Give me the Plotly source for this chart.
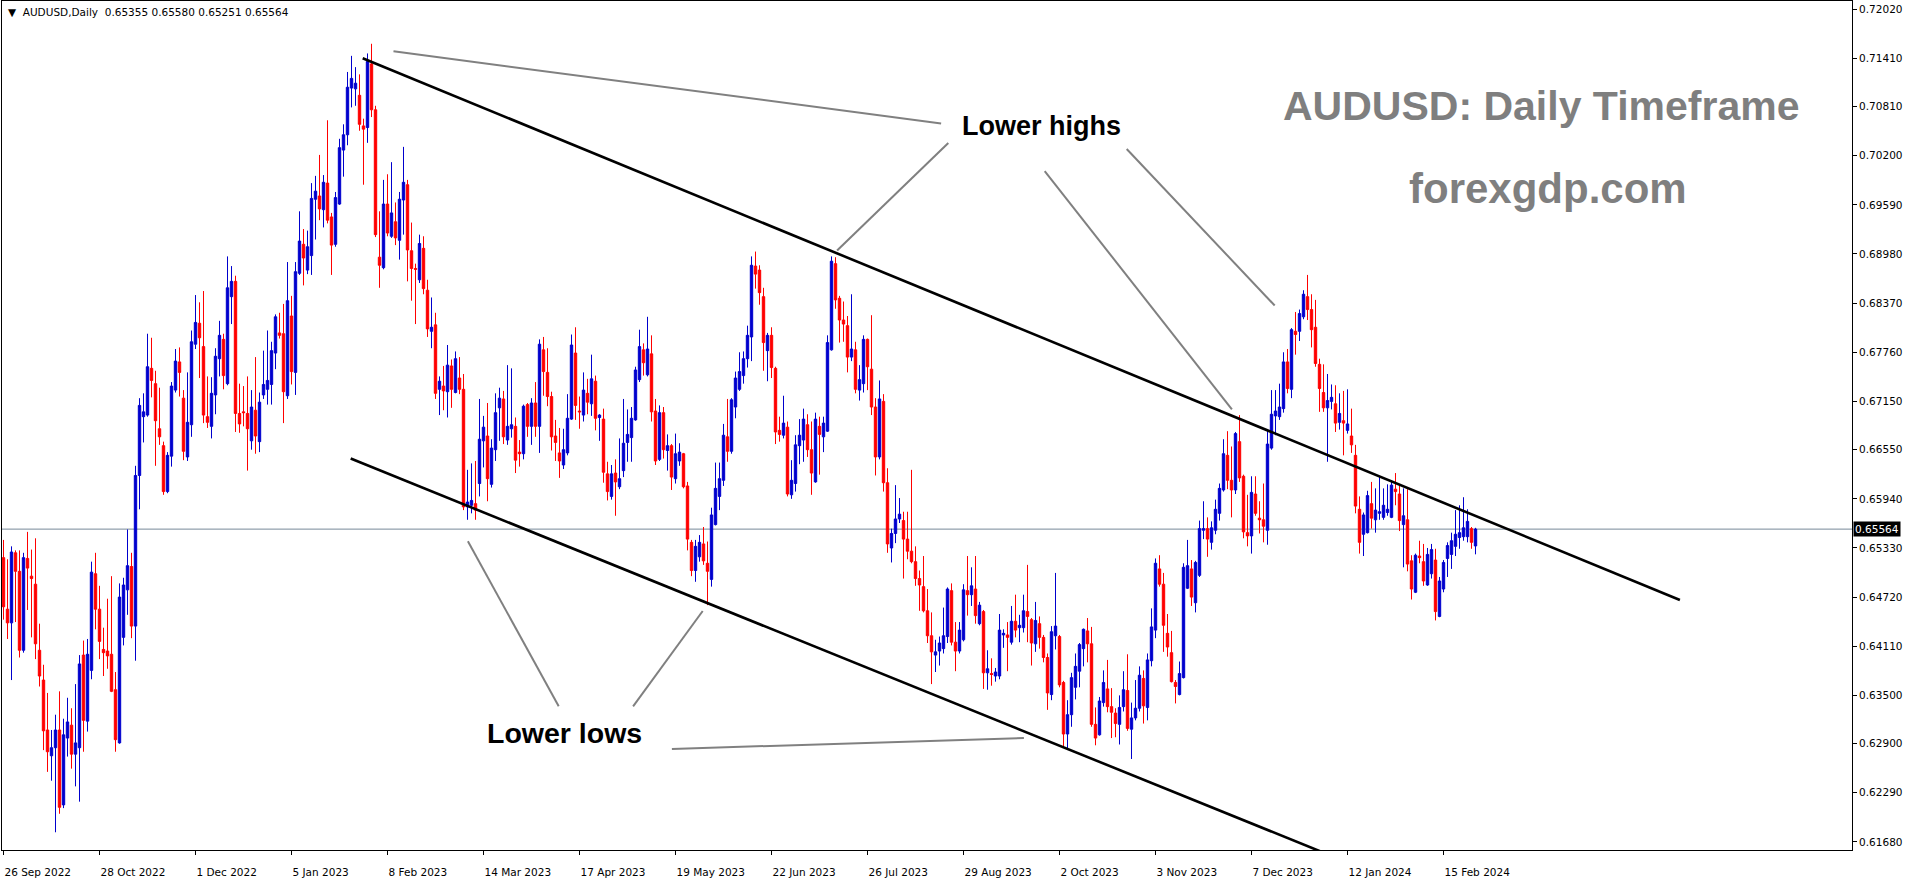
import plotly.graph_objects as go

# ---------------- data (AUDUSD daily, prices in pips = price*10000) ----------------
opens = [6521,6457,6440,6527,6504,6406,6520,6498,6488,6406,
6369,6307,6275,6285,6307,6214,6297,6313,6277,6285,
6400,6318,6381,6501,6457,6407,6405,6401,6357,6291,
6422,6481,6510,6436,6623,6696,6698,6756,6737,6681,
6660,6603,6647,6729,6764,6719,6646,6686,6786,6812,
6783,6696,6684,6723,6768,6792,6737,6845,6864,6700,
6702,6700,6666,6704,6665,6723,6730,6736,6775,6800,
6799,6722,6821,6751,6874,6910,6878,6896,6966,6970,
6953,6986,6944,6910,6960,7027,7046,7104,7103,7095,
7057,7055,7134,7077,6894,6881,6960,6920,6938,6915,
6965,6984,6902,6880,6866,6905,6853,6802,6810,6730,
6734,6727,6759,6726,6744,6730,6584,6586,6588,6613,
6666,6672,6612,6655,6707,6718,6667,6681,6684,6652,
6650,6711,6684,6713,6684,6779,6751,6721,6672,6651,
6636,6651,6693,6775,6703,6698,6725,6712,6740,6695,
6693,6625,6597,6626,6609,6629,6664,6670,6692,6742,
6779,6748,6774,6703,6643,6701,6654,6660,6619,6641,
6650,6610,6540,6505,6522,6538,6514,6494,6562,6597,
6617,6671,6653,6708,6730,6747,6768,6795,6883,6878,
6845,6778,6797,6756,6679,6673,6683,6599,6613,6660,
6667,6686,6655,6615,6684,6671,6678,6779,6886,6843,
6816,6809,6770,6779,6729,6737,6792,6755,6708,6646,
6715,6614,6533,6551,6569,6567,6544,6529,6516,6495,
6485,6455,6424,6400,6405,6408,6423,6480,6416,6405,
6419,6480,6475,6482,6439,6454,6378,6377,6374,6374,
6425,6425,6416,6442,6434,6434,6454,6444,6414,6439,
6422,6397,6351,6424,6423,6366,6302,6326,6360,6380,
6408,6430,6414,6314,6301,6341,6358,6336,6328,6314,
6336,6356,6308,6322,6334,6371,6335,6393,6431,6507,
6488,6427,6403,6366,6351,6372,6483,6507,6465,6499,
6555,6557,6540,6555,6576,6605,6648,6617,6605,6665,
6622,6552,6548,6600,6570,6568,6555,6657,6697,6696,
6706,6764,6730,6802,6802,6820,6845,6829,6807,6761,
6726,6707,6715,6712,6689,6691,6679,6672,6648,6581,
6550,6552,6588,6568,6576,6571,6577,6571,6606,6600,
6562,6568,6517,6478,6523,6516,6487,6501,6518,6448,
6482,6520,6525,6535,6546,6547,6547,6557,6535.5]

highs = [6543,6519,6535,6530,6530,6527,6553,6531,6545,6439,
6388,6353,6307,6326,6355,6321,6347,6334,6364,6400,
6418,6420,6516,6527,6486,6434,6470,6498,6379,6489,
6496,6556,6527,6635,6719,6725,6799,6794,6753,6732,
6665,6652,6739,6780,6782,6729,6751,6803,6847,6838,
6852,6746,6745,6781,6815,6799,6895,6883,6871,6737,
6734,6746,6729,6770,6726,6778,6803,6789,6823,6825,
6836,6888,6846,6888,6951,6929,6927,6986,6995,7021,
6996,7064,6949,6975,7041,7059,7124,7144,7130,7121,
7066,7147,7159,7082,6951,6990,6997,7012,6962,6975,
7031,6990,6937,6886,6922,6920,6866,6844,6825,6746,
6759,6785,6767,6777,6770,6749,6630,6638,6641,6718,
6697,6713,6668,6725,6732,6728,6760,6756,6695,6667,
6711,6713,6719,6739,6792,6795,6781,6727,6692,6682,
6681,6724,6798,6807,6721,6751,6743,6773,6747,6699,
6706,6640,6636,6643,6669,6718,6705,6708,6758,6804,
6787,6820,6797,6718,6710,6708,6674,6662,6675,6663,
6651,6615,6543,6543,6549,6559,6541,6583,6639,6639,
6687,6718,6719,6752,6776,6777,6809,6895,6901,6884,
6856,6800,6807,6758,6696,6722,6690,6642,6673,6693,
6706,6699,6690,6701,6696,6696,6797,6895,6894,6846,
6839,6821,6848,6789,6760,6797,6793,6822,6719,6741,
6724,6632,6557,6611,6595,6578,6578,6630,6535,6505,
6523,6482,6453,6419,6423,6459,6484,6489,6441,6441,
6488,6523,6509,6523,6466,6456,6406,6396,6384,6451,
6432,6441,6461,6475,6450,6475,6512,6446,6466,6448,
6425,6402,6436,6502,6425,6368,6344,6378,6402,6415,
6433,6446,6435,6335,6348,6381,6394,6359,6334,6350,
6380,6401,6341,6369,6386,6381,6402,6458,6520,6524,
6502,6451,6430,6369,6392,6514,6543,6518,6517,6567,
6591,6571,6566,6593,6613,6668,6678,6659,6677,6698,
6624,6599,6622,6622,6591,6613,6679,6729,6729,6737,
6776,6780,6806,6826,6829,6853,6872,6848,6841,6768,
6761,6749,6736,6735,6725,6728,6730,6706,6661,6597,
6577,6604,6615,6607,6622,6607,6612,6617,6626,6610,
6607,6606,6524,6526,6542,6538,6533,6538,6532,6497,
6518,6540,6552,6580,6586,6596,6581,6559,6558.0]

lows = [6444,6420,6369,6441,6397,6403,6456,6422,6395,6361,
6282,6255,6244,6180,6203,6210,6274,6259,6237,6218,
6280,6305,6370,6432,6395,6374,6383,6354,6280,6290,
6412,6450,6421,6393,6581,6664,6696,6720,6635,6661,
6599,6601,6634,6726,6721,6642,6641,6671,6780,6744,
6688,6682,6669,6699,6746,6730,6735,6811,6677,6676,
6684,6629,6655,6650,6652,6718,6711,6711,6755,6793,
6688,6718,6736,6723,6872,6859,6873,6872,6916,6940,
6931,6936,6872,6907,6959,6994,7033,7080,7082,7051,
6984,7036,7068,6919,6856,6879,6920,6918,6909,6891,
6922,6864,6840,6811,6862,6848,6795,6781,6718,6698,
6704,6695,6707,6725,6724,6580,6568,6576,6568,6597,
6633,6591,6608,6641,6666,6662,6661,6670,6626,6634,
6643,6671,6661,6671,6651,6722,6709,6654,6641,6620,
6631,6648,6692,6692,6681,6690,6699,6697,6679,6666,
6614,6592,6593,6573,6606,6621,6640,6640,6691,6739,
6747,6746,6690,6636,6641,6644,6629,6605,6613,6635,
6607,6530,6498,6491,6516,6512,6462,6485,6561,6580,
6610,6640,6650,6694,6728,6737,6757,6765,6855,6835,
6753,6740,6744,6662,6665,6669,6597,6594,6603,6637,
6640,6646,6599,6614,6624,6652,6677,6778,6830,6788,
6789,6751,6765,6725,6716,6726,6729,6698,6623,6643,
6603,6527,6515,6539,6564,6495,6519,6514,6486,6455,
6453,6415,6364,6379,6387,6402,6415,6412,6380,6402,
6417,6449,6461,6439,6437,6358,6357,6362,6367,6370,
6409,6380,6413,6422,6416,6428,6416,6387,6404,6408,
6391,6332,6344,6407,6360,6286,6284,6311,6345,6360,
6386,6391,6311,6288,6300,6336,6329,6297,6298,6289,
6330,6306,6271,6319,6330,6315,6319,6386,6421,6485,
6404,6398,6366,6340,6350,6371,6482,6461,6453,6497,
6544,6522,6531,6550,6567,6603,6606,6571,6600,6615,
6545,6535,6526,6573,6551,6540,6537,6655,6673,6692,
6701,6725,6719,6773,6790,6817,6816,6782,6758,6702,
6702,6640,6705,6677,6680,6648,6675,6651,6576,6526,
6523,6551,6557,6552,6568,6568,6573,6570,6586,6554,
6509,6504,6469,6477,6514,6486,6486,6495,6443,6447,
6478,6497,6507,6523,6532,6542,6540,6532,6525.1]

closes = [6460,6440,6528,6504,6406,6521,6508,6495,6414,6374,
6306,6280,6285,6307,6211,6301,6317,6277,6291,6389,
6319,6401,6503,6457,6417,6403,6399,6355,6295,6472,
6487,6511,6436,6623,6710,6702,6758,6741,6691,6671,
6603,6648,6734,6765,6751,6653,6689,6789,6813,6794,
6698,6689,6725,6771,6797,6747,6856,6864,6700,6687,
6701,6681,6708,6672,6714,6736,6741,6778,6820,6797,
6727,6840,6752,6876,6914,6893,6907,6967,6976,6954,
6987,6940,6909,6968,7030,7046,7105,7116,7110,7059,
7053,7137,7077,6922,6884,6960,6924,6949,6918,6966,
6987,6903,6880,6879,6911,6855,6805,6807,6725,6740,
6728,6760,6730,6768,6730,6584,6590,6592,6580,6668,
6683,6619,6657,6701,6719,6671,6684,6686,6642,6650,
6709,6684,6713,6684,6786,6752,6721,6671,6664,6641,
6655,6694,6785,6710,6702,6729,6714,6743,6694,6698,
6627,6603,6625,6615,6619,6663,6674,6694,6754,6783,
6763,6780,6702,6641,6701,6655,6660,6621,6650,6652,
6609,6544,6505,6535,6540,6517,6504,6574,6607,6619,
6673,6653,6717,6744,6752,6768,6797,6884,6873,6850,
6788,6797,6757,6677,6674,6688,6600,6617,6661,6673,
6693,6655,6626,6693,6674,6688,6788,6889,6841,6816,
6811,6770,6780,6730,6742,6792,6758,6708,6646,6718,
6614,6538,6551,6569,6575,6544,6529,6516,6495,6487,
6455,6424,6404,6404,6415,6424,6482,6416,6405,6431,
6481,6475,6486,6449,6462,6378,6383,6376,6379,6431,
6427,6422,6442,6431,6437,6455,6448,6415,6443,6422,
6397,6353,6429,6436,6363,6302,6326,6372,6386,6413,
6432,6414,6314,6297,6343,6366,6336,6329,6315,6335,
6357,6309,6322,6334,6375,6337,6394,6435,6514,6488,
6437,6410,6367,6361,6377,6509,6511,6472,6515,6557,
6557,6544,6558,6581,6607,6650,6617,6605,6675,6620,
6553,6548,6602,6576,6568,6560,6662,6699,6703,6708,
6764,6731,6804,6798,6824,6848,6829,6804,6762,6731,
6707,6716,6720,6688,6700,6688,6687,6661,6585,6540,
6574,6598,6570,6580,6578,6586,6581,6611,6603,6567,
6573,6513,6482,6524,6521,6492,6525,6531,6454,6492,
6515,6536,6542,6550,6552,6558,6566,6540,6556.4]

date_labels = ["26 Sep 2022", "28 Oct 2022", "1 Dec 2022", "5 Jan 2023", "8 Feb 2023",
               "14 Mar 2023", "17 Apr 2023", "19 May 2023", "22 Jun 2023", "26 Jul 2023",
               "29 Aug 2023", "2 Oct 2023", "3 Nov 2023", "7 Dec 2023", "12 Jan 2024",
               "15 Feb 2024"]
label_every = 24  # bars between date labels

price_ticks = [0.72020, 0.71410, 0.70810, 0.70200, 0.69590, 0.68980, 0.68370, 0.67760,
               0.67150, 0.66550, 0.65940, 0.65330, 0.64720, 0.64110, 0.63500, 0.62900,
               0.62290, 0.61680]

last_price = 0.65564
header = "\u25bc  AUDUSD,Daily  0.65355 0.65580 0.65251 0.65564"

# channel lines (bar index, price)
upper_channel_x = [89.8, 419.1]
upper_channel_y = [0.71410, 0.64684]
lower_channel_x = [86.8, 335.0]
lower_channel_y = [0.66440, 0.61447]

# grey pointer lines (bar index, price)
pointer_x = [[97.5, 234.4], [208.4, 236.2], [260.3, 307.1], [280.8, 317.8],
             [116.1, 138.8], [174.8, 157.4], [167.1, 255.1]]
pointer_y = [[0.71496, 0.70601], [0.69023, 0.70358], [0.70010, 0.67050], [0.70283, 0.68340],
             [0.65413, 0.63364], [0.64547, 0.63364], [0.62834, 0.62971]]

# ---------------- figure ----------------
n = len(closes)
xs = list(range(n))
P = lambda arr: [v / 10000 for v in arr]

fig = go.Figure()

fig.add_trace(go.Candlestick(
    x=xs, open=P(opens), high=P(highs), low=P(lows), close=P(closes),
    increasing=dict(line=dict(color="#0000CD", width=1), fillcolor="#0000CD"),
    decreasing=dict(line=dict(color="#FF0000", width=1), fillcolor="#FF0000"),
    whiskerwidth=0, hoverinfo="skip", showlegend=False))

fig.add_trace(go.Scatter(x=upper_channel_x, y=upper_channel_y, mode="lines",
                         line=dict(color="black", width=2.6), hoverinfo="skip", showlegend=False))
fig.add_trace(go.Scatter(x=lower_channel_x, y=lower_channel_y, mode="lines",
                         line=dict(color="black", width=2.6), hoverinfo="skip", showlegend=False))
for px_, py_ in zip(pointer_x, pointer_y):
    fig.add_trace(go.Scatter(x=px_, y=py_, mode="lines",
                             line=dict(color="#808080", width=2), hoverinfo="skip", showlegend=False))

# current price line
fig.add_shape(type="line", xref="paper", x0=0, x1=1, yref="y", y0=last_price, y1=last_price,
              line=dict(color="#778899", width=1), layer="below")

ann = []
ann.append(dict(xref="paper", yref="paper", x=0.002, y=0.997, xanchor="left", yanchor="top",
                text=header, showarrow=False,
                font=dict(family="DejaVu Sans", size=10.5, color="black")))
ann.append(dict(xref="x", yref="y", x=384.4, y=0.70817, text="<b>AUDUSD: Daily Timeframe</b>",
                showarrow=False, font=dict(family="Liberation Sans", size=41, color="#7F7F7F")))
ann.append(dict(xref="x", yref="y", x=386.1, y=0.69799, text="<b>forexgdp.com</b>",
                showarrow=False, font=dict(family="Liberation Sans", size=42, color="#7F7F7F")))
ann.append(dict(xref="x", yref="y", x=259.4, y=0.70569, text="<b>Lower highs</b>",
                showarrow=False, font=dict(family="Liberation Sans", size=27, color="black")))
ann.append(dict(xref="x", yref="y", x=140.3, y=0.63033, text="<b>Lower lows</b>",
                showarrow=False, font=dict(family="Liberation Sans", size=28.5, color="black")))
ann.append(dict(xref="paper", yref="y", x=1, y=last_price, xanchor="left", xshift=1,
                text=f"{last_price:.5f}", showarrow=False, bgcolor="black", borderpad=1,
                font=dict(family="DejaVu Sans", size=10.5, color="white")))

axis_font = dict(family="DejaVu Sans", size=10.5, color="black")
fig.update_layout(
    width=1916, height=884,
    margin=dict(l=2, r=64, t=1, b=34),
    paper_bgcolor="white", plot_bgcolor="white",
    boxgap=0.4, boxgroupgap=0,
    annotations=ann,
    xaxis=dict(range=[-0.375, 462.125], tickvals=[label_every * i for i in range(len(date_labels))],
               ticktext=date_labels, ticks="outside", ticklen=4, tickcolor="black",
               ticklabelposition="outside right", ticklabelstandoff=12, tickfont=axis_font,
               showline=True, linecolor="black", linewidth=1, mirror=True,
               showgrid=False, zeroline=False, rangeslider=dict(visible=False), fixedrange=True),
    yaxis=dict(side="right", range=[0.61580, 0.72121], tickvals=price_ticks,
               ticktext=[f"{v:.5f}" for v in price_ticks], ticks="outside", ticklen=4,
               tickcolor="black", tickfont=axis_font,
               showline=True, linecolor="black", linewidth=1, mirror=True,
               showgrid=False, zeroline=False, fixedrange=True),
)

fig.write_html("out.html", config={"displayModeBar": False},
               post_script="document.body.style.margin='0px';document.body.style.overflow='hidden';")
